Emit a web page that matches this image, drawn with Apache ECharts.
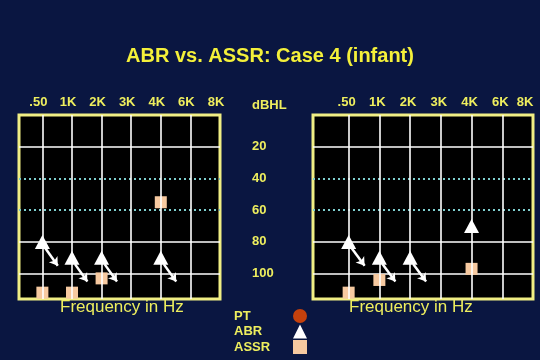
<!DOCTYPE html>
<html>
<head>
<meta charset="utf-8">
<script src="https://cdn.jsdelivr.net/npm/echarts@6/dist/echarts.min.js"></script>
<style>html,body{margin:0;padding:0;background:#0a1641;}#c{width:540px;height:360px;}</style>
</head>
<body>
<div id="c"></div>
<script>
// ---- data ----
var freqLabels = ['.50', '1K', '2K', '3K', '4K', '6K', '8K'];
var dbLabels = [20, 40, 60, 80, 100];
var solidLevels = [20, 80, 100];
var dottedLevels = [40, 60];

// left panel
var leftAbrFreq = [0, 1, 2, 4];
var leftAbrDb = [80, 90, 90, 90];
var leftAbrNoResponse = [true, true, true, true];
var leftAssrFreq = [0, 1, 2, 4];
var leftAssrDb = [112, 112, 103, 55];

// right panel
var rightAbrFreq = [0, 1, 2, 4];
var rightAbrDb = [80, 90, 90, 70];
var rightAbrNoResponse = [true, true, true, false];
var rightAssrFreq = [0, 1, 4];
var rightAssrDb = [112, 104, 97];

// ---- styles ----
var FONT = "'Liberation Sans', Arial, sans-serif";
var YEL = '#EEEE5E';
var TITLE_YEL = '#F4F03A';
var BOX = '#F0EE84';
var PEACH = '#F6C9A0';
var ARROW_DX0 = 0.1, ARROW_DY0 = 4, ARROW_DX1 = 0.52, ARROW_DY1 = 15;

function pts(fx, dy) { return fx.map(function (f, i) { return [f, dy[i]]; }); }
function arrows(fx, dy, nr) {
  var out = [];
  fx.forEach(function (f, i) {
    if (nr[i]) out.push({ coords: [[f + ARROW_DX0, dy[i] + ARROW_DY0], [f + ARROW_DX1, dy[i] + ARROW_DY1]] });
  });
  return out;
}
var idx = freqLabels.map(function (_, i) { return i; });
var gridIdx = idx.slice(0, idx.length - 1);

function xAxisFor(g, xmin, rich) {
  return {
    type: 'value', gridIndex: g, min: xmin, max: freqLabels.length - 1, position: 'top', z: 3,
    axisLine: { show: false },
    axisTick: { show: false, customValues: gridIdx },
    axisLabel: {
      customValues: idx, margin: 6, color: YEL, fontFamily: FONT, fontWeight: 'bold', fontSize: 13,
      formatter: function (v) {
        var t = freqLabels[Math.round(v)];
        if (rich) return (Math.round(v) === freqLabels.length - 1 ? '{e|' : '{n|') + t + '}';
        return t;
      },
      padding: rich ? 0 : [0, 8, 0, 0],
      rich: rich ? { n: { padding: [0, 4, 0, 0] }, e: { padding: [0, 16, 0, 0] } } : undefined
    },
    splitLine: { show: true, lineStyle: { color: '#ffffff', width: 1.6 } }
  };
}
function yAxisLines(g, levels, style) {
  return {
    type: 'value', gridIndex: g, min: 0, max: 116, inverse: true,
    axisLine: { show: false }, axisTick: { show: false, customValues: levels },
    axisLabel: { show: false },
    splitLine: { show: true, lineStyle: style }
  };
}
var solidStyle = { color: '#ffffff', width: 1.6 };
var dotStyle = { color: '#7fcfcf', width: 2, type: [2, 3] };

var yAxes = [
  yAxisLines(0, solidLevels, solidStyle),   // 0
  yAxisLines(0, dottedLevels, dotStyle),    // 1
  yAxisLines(1, solidLevels, solidStyle),   // 2
  yAxisLines(1, dottedLevels, dotStyle),    // 3
  { // 4 : dB labels between the panels
    type: 'value', gridIndex: 0, min: 0, max: 116, inverse: true, position: 'right',
    axisLine: { show: false }, axisTick: { show: false, customValues: dbLabels },
    splitLine: { show: false },
    axisLabel: { customValues: dbLabels, align: 'left', margin: 32, color: YEL, fontFamily: FONT,
      fontWeight: 'bold', fontSize: 13, padding: [0, 0, 8, 0] }
  }
];

function abrSeries(xi, yi, fx, dy) {
  return { name: 'ABR', type: 'scatter', xAxisIndex: xi, yAxisIndex: yi, symbol: 'triangle',
    symbolSize: [15, 14], itemStyle: { color: '#ffffff', opacity: 1 }, data: pts(fx, dy), z: 4 };
}
function assrSeries(xi, yi, fx, dy) {
  return { name: 'ASSR', type: 'scatter', xAxisIndex: xi, yAxisIndex: yi, symbol: 'rect',
    symbolSize: 12, itemStyle: { color: PEACH, opacity: 1 }, data: pts(fx, dy), z: 2 };
}
function arrowSeries(xi, yi, fx, dy, nr) {
  return { type: 'lines', coordinateSystem: 'cartesian2d', xAxisIndex: xi, yAxisIndex: yi,
    symbol: ['none', 'arrow'], symbolSize: 8, z: 4,
    lineStyle: { color: '#ffffff', width: 2.5, opacity: 1 }, data: arrows(fx, dy, nr) };
}

var option = {
  backgroundColor: '#0a1641',
  animation: false,
  title: [
    { text: 'ABR vs. ASSR: Case 4 (infant)', left: 'center', top: 46, padding: 0,
      textStyle: { color: TITLE_YEL, fontFamily: FONT, fontWeight: 'bold', fontSize: 20 } },
    { text: 'dBHL', left: 252, top: 99, padding: 0,
      textStyle: { color: YEL, fontFamily: FONT, fontWeight: 'bold', fontSize: 13 } },
    { text: 'Frequency in Hz', left: 60, top: 299, padding: 0,
      textStyle: { color: YEL, fontFamily: FONT, fontWeight: 'normal', fontSize: 17 } },
    { text: 'Frequency in Hz', left: 349, top: 299, padding: 0,
      textStyle: { color: YEL, fontFamily: FONT, fontWeight: 'normal', fontSize: 17 } }
  ],
  legend: {
    data: ['PT', 'ABR', 'ASSR'], orient: 'vertical', left: 234, top: 309, padding: 0,
    align: 'right', itemWidth: 14, itemHeight: 14, itemGap: 1.5,
    formatter: function (name) { return '{a|' + name + '}'; },
    textStyle: { color: YEL, fontFamily: FONT, fontWeight: 'bold', fontSize: 13,
      rich: { a: { width: 54, align: 'left', color: YEL, fontFamily: FONT, fontWeight: 'bold', fontSize: 13 } } }
  },
  grid: [
    { left: 19, right: 320, top: 115, bottom: 61, show: true, backgroundColor: '#000000',
      borderColor: BOX, borderWidth: 3 },
    { left: 313, right: 7, top: 115, bottom: 61, show: true, backgroundColor: '#000000',
      borderColor: BOX, borderWidth: 3 }
  ],
  xAxis: [xAxisFor(0, -0.79, false), xAxisFor(1, -1.16, true)],
  yAxis: yAxes,
  series: [
    { name: 'PT', type: 'scatter', xAxisIndex: 0, yAxisIndex: 0, symbol: 'circle', symbolSize: 12,
      itemStyle: { color: '#C5410C', opacity: 1 }, data: [] },
    assrSeries(0, 0, leftAssrFreq, leftAssrDb),
    abrSeries(0, 0, leftAbrFreq, leftAbrDb),
    arrowSeries(0, 0, leftAbrFreq, leftAbrDb, leftAbrNoResponse),
    assrSeries(1, 2, rightAssrFreq, rightAssrDb),
    abrSeries(1, 2, rightAbrFreq, rightAbrDb),
    arrowSeries(1, 2, rightAbrFreq, rightAbrDb, rightAbrNoResponse)
  ]
};
var chart = echarts.init(document.getElementById('c'), null, { renderer: 'canvas' });
chart.setOption(option);
</script>
</body>
</html>
